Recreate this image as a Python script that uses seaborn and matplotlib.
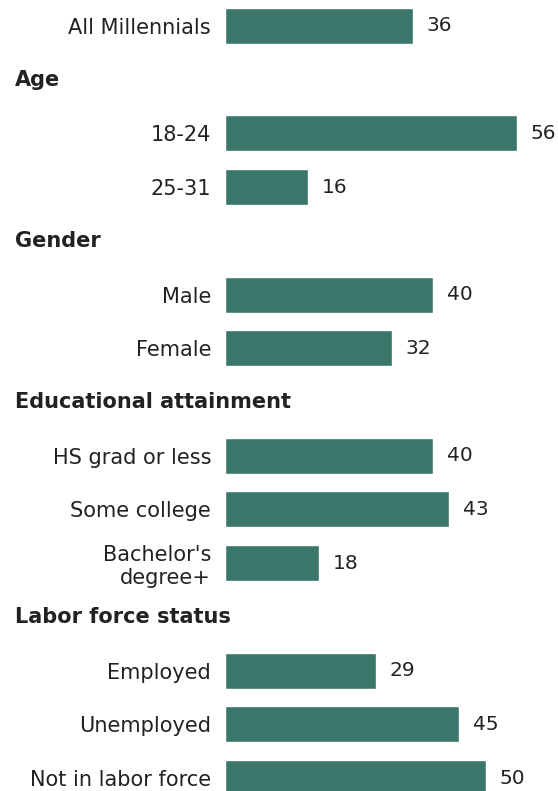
import seaborn as sns
import matplotlib.pyplot as plt
import matplotlib.transforms as mtransforms
import pandas as pd

# rows in drawing order; headers have no bar
rows = ['All Millennials', 'Age', '18-24', '25-31', 'Gender', 'Male', 'Female',
        'Educational attainment', 'HS grad or less', 'Some college', "Bachelor's\ndegree+",
        'Labor force status', 'Employed', 'Unemployed', 'Not in labor force']
headers = ['Age', 'Gender', 'Educational attainment', 'Labor force status']
labels = ['All Millennials', '18-24', '25-31', 'Male', 'Female',
          'HS grad or less', 'Some college', "Bachelor's\ndegree+",
          'Employed', 'Unemployed', 'Not in labor force']
values = [36, 56, 16, 40, 32, 40, 43, 18, 29, 45, 50]

df = pd.DataFrame({'group': labels, 'value': values})

sns.set_style('white')
plt.rcParams['font.family'] = ['DejaVu Sans']
fs = 15

fig = plt.figure(figsize=(5.58, 7.91), dpi=100)
# axes spans from x=225px to right edge, rows ~53.7px apart
ax = fig.add_axes([225 / 558, -14 / 791, 333 / 558, 806 / 791])
sns.barplot(data=df, x='value', y='group', order=rows, color='#3a776a',
            width=0.67, saturation=1, ax=ax)

ax.set_xlim(0, 333 / 5.21)
ax.set_ylim(len(rows) - 0.5, -0.5)
ax.set_xlabel('')
ax.set_ylabel('')
ax.set_xticks([])
for s in ax.spines.values():
    s.set_visible(False)

ticklabels = ['' if r in headers else r for r in rows]
ax.set_yticks(range(len(rows)))
ax.set_yticklabels(ticklabels, fontsize=fs, color='#222222')
ax.tick_params(axis='y', length=0, pad=10)

for c in ax.containers:
    ax.bar_label(c, padding=10, fontsize=14.5, color='#222222')

# group headers at left edge of figure
trans = mtransforms.blended_transform_factory(fig.transFigure, ax.transData)
for i, r in enumerate(rows):
    if r in headers:
        fig.text(15 / 558, i, r, fontsize=fs, fontweight='bold', color='#222222',
                 va='center', ha='left', transform=trans)

fig.savefig('out.png', dpi=100)
